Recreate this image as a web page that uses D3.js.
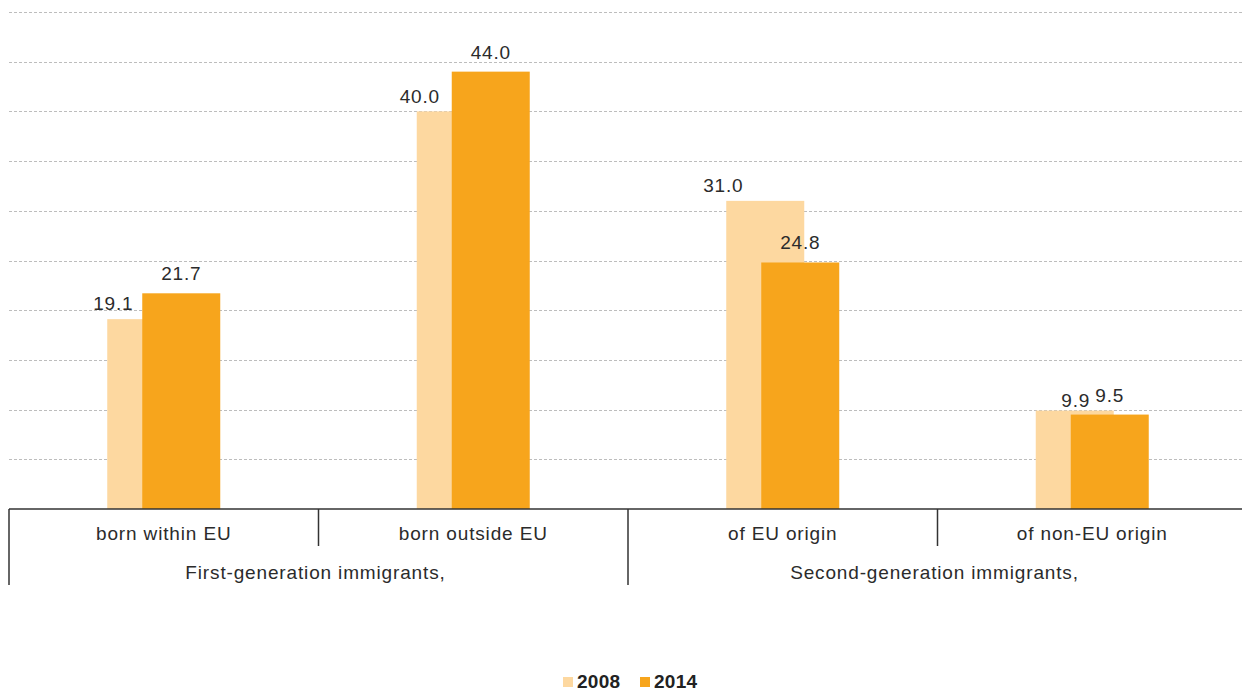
<!DOCTYPE html>
<html>
<head>
<meta charset="utf-8">
<script src="https://cdn.jsdelivr.net/npm/d3@7"></script>
<style>
  html, body { margin: 0; padding: 0; background: #fff; }
  svg { display: block; }
  text { font-family: "Liberation Sans", Arial, sans-serif; fill: #2b2b2b; }
</style>
</head>
<body>
<svg id="chart" width="1242" height="693"></svg>
<script>
// Categories and their parent groups
const categories = ["born within EU", "born outside EU", "of EU origin", "of non-EU origin"];
const groups = ["First-generation immigrants,", "Second-generation immigrants,"];
const groupOf = [0, 0, 1, 1];

// Series
const years = ["2008", "2014"];
const values2008 = [19.1, 40.0, 31.0, 9.9];
const values2014 = [21.7, 44.0, 24.8, 9.5];

// Gridline values
const gridTicks = [5, 10, 15, 20, 25, 30, 35, 40, 45, 50];

// Label nudges for the 2008 series (relative to bar left edge / bar top)
const label2008dx = [6, 3, -3, 40];
const label2008dy = [-9, -8, -9, -4];

const colors = { "2008": "#FDD8A0", "2014": "#F7A51C" };

const svg = d3.select("#chart");
const W = 1242;
const left = 9, baseY = 509, topY = 12;

const x0 = d3.scaleBand().domain(categories).range([left, left + 4 * 309.5]).padding(0);
const y = d3.scaleLinear().domain([0, 50]).range([baseY, topY]);

const barW = 78;
// Left edge of each series bar relative to the category centre (bars overlap)
const x1 = d3.scalePoint().domain(years).range([-56.5, -21.5]);

// Gridlines
svg.append("g").selectAll("line").data(gridTicks).join("line")
  .attr("x1", left).attr("x2", W)
  .attr("y1", d => Math.round(y(d)) + 0.5).attr("y2", d => Math.round(y(d)) + 0.5)
  .attr("stroke", "#bdbdbd").attr("stroke-width", 1)
  .attr("stroke-dasharray", "3,2");

const rows = categories.map((c, i) => ({ c, i, v: { "2008": values2008[i], "2014": values2014[i] } }));

// Bars
years.forEach(yr => {
  svg.append("g").selectAll("rect").data(rows).join("rect")
    .attr("x", d => x0(d.c) + x0.bandwidth() / 2 + x1(yr))
    .attr("y", d => y(d.v[yr]))
    .attr("width", barW)
    .attr("height", d => baseY - y(d.v[yr]))
    .attr("fill", colors[yr]);
});

// Value labels
const fmt = d3.format(".1f");
svg.append("g").selectAll("text").data(rows).join("text")
  .attr("x", d => x0(d.c) + x0.bandwidth() / 2 + x1("2008") + label2008dx[d.i])
  .attr("y", d => y(d.v["2008"]) + label2008dy[d.i])
  .attr("text-anchor", "middle")
  .style("font-size", "19px").style("letter-spacing", "0.8px")
  .text(d => fmt(d.v["2008"]));
svg.append("g").selectAll("text").data(rows).join("text")
  .attr("x", d => x0(d.c) + x0.bandwidth() / 2 + x1("2014") + barW / 2)
  .attr("y", d => y(d.v["2014"]) - 13)
  .attr("text-anchor", "middle")
  .style("font-size", "19px").style("letter-spacing", "0.8px")
  .text(d => fmt(d.v["2014"]));

// Category axis with two-level labels
const axisG = svg.append("g").attr("stroke", "#333").attr("stroke-width", 1.5);
axisG.append("line").attr("x1", left).attr("x2", W).attr("y1", baseY).attr("y2", baseY);
categories.forEach((c, i) => {
  const xl = x0(c);
  const isGroupStart = i === 0 || groupOf[i] !== groupOf[i - 1];
  axisG.append("line")
    .attr("x1", xl).attr("x2", xl)
    .attr("y1", baseY).attr("y2", isGroupStart ? 585 : 546);
});

svg.append("g").selectAll("text").data(categories).join("text")
  .attr("x", d => x0(d) + x0.bandwidth() / 2)
  .attr("y", 540)
  .attr("text-anchor", "middle")
  .style("font-size", "19px").style("letter-spacing", "0.85px")
  .text(d => d);

svg.append("g").selectAll("text").data(groups).join("text")
  .attr("x", (g, gi) => {
    const members = categories.filter((c, i) => groupOf[i] === gi);
    const a = x0(members[0]), b = x0(members[members.length - 1]) + x0.bandwidth();
    return (a + b) / 2 - 3;
  })
  .attr("y", 579)
  .attr("text-anchor", "middle")
  .style("font-size", "19px").style("letter-spacing", "0.85px")
  .text(d => d);

// Legend
const legend = svg.append("g");
const legendX = [563, 640];
years.forEach((yr, i) => {
  legend.append("rect")
    .attr("x", legendX[i]).attr("y", 677).attr("width", 10).attr("height", 10)
    .attr("fill", colors[yr]);
  legend.append("text")
    .attr("x", legendX[i] + 14).attr("y", 688)
    .style("font-size", "19px").style("font-weight", "bold")
    .style("letter-spacing", "0.3px")
    .style("fill", "#222")
    .text(yr);
});
</script>
</body>
</html>
